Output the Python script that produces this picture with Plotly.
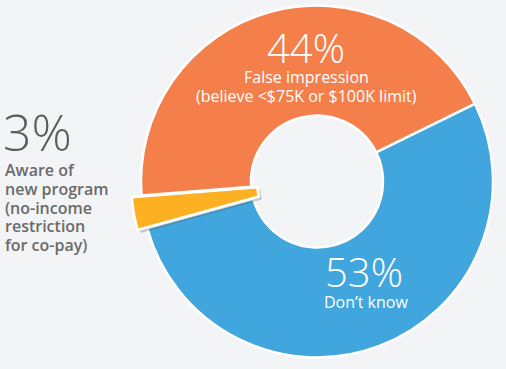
import math
import plotly.graph_objects as go

labels = ["False impression", "Don't know", "Aware of new program"]
values = [44, 53, 3]
colors = ["#F47F4B", "#41A6DD", "#FDB022"]
pct_text = ["44%", "53%", "3%"]
orange_lines = ["False impression", "(believe <$75K or $100K limit)"]
blue_lines = ["Don’t know"]
yellow_lines = ["Aware of", "new program", "(no-income", "restriction", "for co-pay)"]

W, H = 506, 369
cx, cy, R = 317, 181.5, 176
rot = -94.6
bg = "#F3F4F6"

# offset ("pull") of the small slice, along its bisector
yellow_mid = rot + 360 * (values[0] + values[1] + values[2] / 2) / sum(values)
pull_px = 10
px = cx + pull_px * math.sin(math.radians(yellow_mid))
py = cy - pull_px * math.cos(math.radians(yellow_mid))


def dom(cx, cy, half):
    return dict(x=[(cx - half) / W, (cx + half) / W],
                y=[1 - (cy + half) / H, 1 - (cy - half) / H])


fig = go.Figure()
clear = "rgba(0,0,0,0)"
fig.add_trace(go.Pie(
    labels=labels, values=values, sort=False, direction="clockwise",
    rotation=rot, hole=0.375, textinfo="none", hoverinfo="label+percent",
    marker=dict(colors=[colors[0], colors[1], clear],
                line=dict(color=["white", "white", clear], width=2.5)),
    domain=dom(cx, cy, R), showlegend=False,
))
fig.add_trace(go.Pie(
    labels=labels, values=values, sort=False, direction="clockwise",
    rotation=rot, hole=0.284, textinfo="none", hoverinfo="skip",
    marker=dict(colors=[clear, clear, "rgba(60,60,60,0.25)"], line=dict(width=0)),
    domain=dom(px + 3, py + 3, R), showlegend=False,
))
fig.add_trace(go.Pie(
    labels=labels, values=values, sort=False, direction="clockwise",
    rotation=rot, hole=0.284, textinfo="none", hoverinfo="label+percent",
    marker=dict(colors=[clear, clear, colors[2]],
                line=dict(color=[clear, clear, "white"], width=2.5)),
    domain=dom(px, py, R), showlegend=False,
))


def ann(text, x, y, size, color, weight=400, xanchor="center"):
    fig.add_annotation(text=text, x=x / W, y=1 - y / H, xref="paper", yref="paper",
                       showarrow=False, xanchor=xanchor, yanchor="middle", align=xanchor,
                       font=dict(family="Open Sans", size=size, color=color, weight=weight))


ann(pct_text[0], 306, 47, 40, "white", 300)
for i, t in enumerate(orange_lines):
    ann(t, 306, 77 + 19 * i, 16, "white")
ann(pct_text[1], 364, 271, 40, "white", 300)
for i, t in enumerate(blue_lines):
    ann(t, 366, 302 + 19 * i, 16, "white")
ann(pct_text[2], 1, 132, 50, "#5c5c5c", 300, xanchor="left")
for i, t in enumerate(yellow_lines):
    ann(t, 3, 170 + 18.8 * i, 16, "#6a6a6a", 600, xanchor="left")

fig.update_layout(width=W, height=H, margin=dict(l=0, r=0, t=0, b=0),
                  paper_bgcolor=bg, plot_bgcolor=bg)
fig.write_html("out.html", config={"displayModeBar": False},
               post_script="document.body.style.margin='0';document.body.style.background='%s';" % bg)
